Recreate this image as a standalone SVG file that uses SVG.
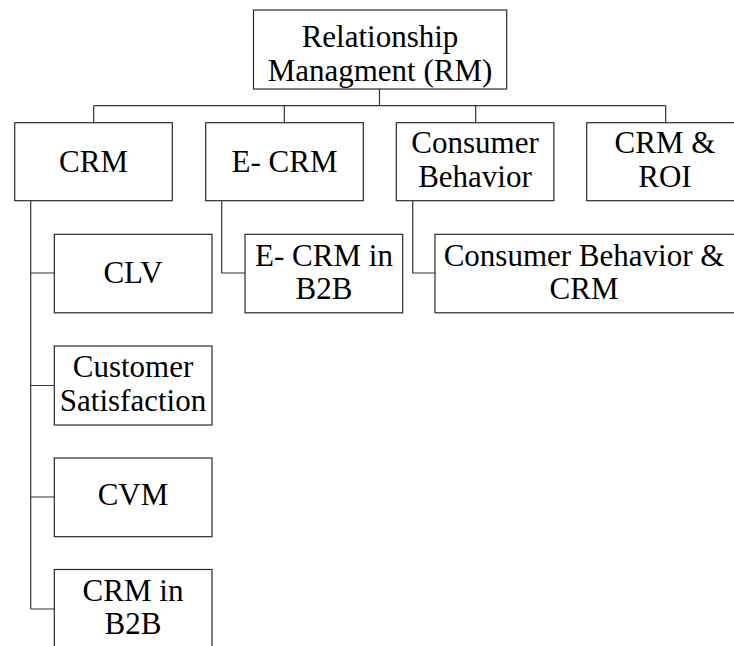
<svg xmlns="http://www.w3.org/2000/svg" width="734" height="646" viewBox="0 0 734 646">
<style>
.box{fill:#fff;stroke:#2a2a2a;stroke-width:1.2}
.c{fill:none;stroke:#333;stroke-width:1.2}
text{font-family:"Liberation Serif","Times New Roman",Times,serif;font-size:31px;text-anchor:middle;fill:#000}
</style>
<rect width="734" height="646" fill="#fff"/>
<g id="connectors">
<path class="c" d="M379.5 89V105.7M93.7 105.7H665.7M93.7 105.7V122.7M284.3 105.7V122.7M475.7 105.7V122.7M665.7 105.7V122.7"/>
<path class="c" d="M30.7 200.7V609M30.7 273H54.3M30.7 385.5H54.3M30.7 497H54.3M30.7 609H54.3"/>
<path class="c" d="M221.7 200.7V273H245"/>
<path class="c" d="M412.7 200.7V273H435"/>
</g>
<g id="rm"><rect class="box" x="253.5" y="10" width="253.2" height="79"/><text x="380" y="46.5">Relationship</text><text x="380" y="80.5">Managment (RM)</text></g>
<g id="crm"><rect class="box" x="14.7" y="122.7" width="157.6" height="78"/><text x="93.5" y="171.7">CRM</text></g>
<g id="ecrm"><rect class="box" x="205.7" y="122.7" width="157.6" height="78"/><text x="284.5" y="171.7">E- CRM</text></g>
<g id="cb"><rect class="box" x="396.3" y="122.7" width="157.6" height="78"/><text x="475" y="153.3">Consumer</text><text x="475" y="187.3">Behavior</text></g>
<g id="roi"><rect class="box" x="586.7" y="122.7" width="157.6" height="78"/><text x="665" y="153.3">CRM &amp;</text><text x="665" y="187.3">ROI</text></g>
<g id="clv"><rect class="box" x="54.3" y="234.3" width="157.7" height="78.5"/><text x="133" y="282.7">CLV</text></g>
<g id="ecrmb2b"><rect class="box" x="245" y="234.3" width="157.7" height="78.5"/><text x="324" y="265.7">E- CRM in</text><text x="324" y="299">B2B</text></g>
<g id="cbcrm"><rect class="box" x="435" y="234.3" width="300" height="78.5"/><text x="584" y="265.7">Consumer Behavior &amp;</text><text x="584" y="299">CRM</text></g>
<g id="cs"><rect class="box" x="54.3" y="346" width="157.7" height="79"/><text x="133" y="377">Customer</text><text x="133" y="411">Satisfaction</text></g>
<g id="cvm"><rect class="box" x="54.3" y="458" width="157.7" height="78.7"/><text x="133" y="505">CVM</text></g>
<g id="crmb2b"><rect class="box" x="54.3" y="569.5" width="157.7" height="80"/><text x="133" y="601">CRM in</text><text x="133" y="634">B2B</text></g>
</svg>
